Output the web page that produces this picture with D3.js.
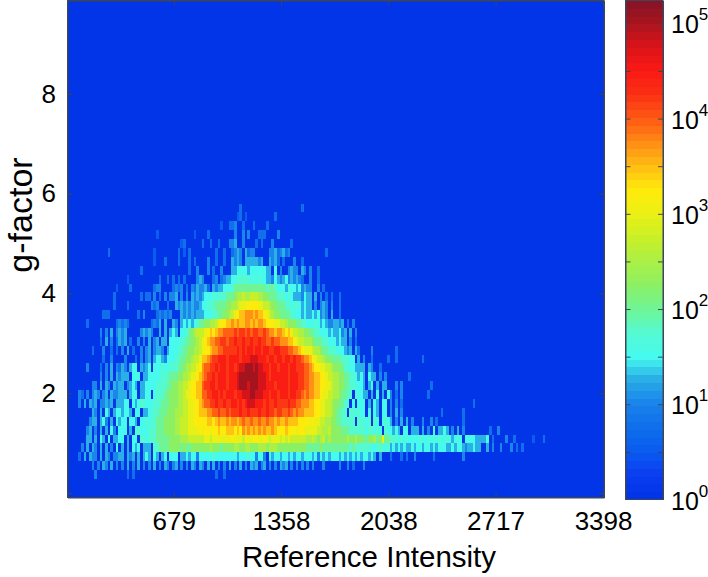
<!DOCTYPE html>
<html>
<head>
<meta charset="utf-8">
<script src="https://cdn.jsdelivr.net/npm/d3@7"></script>
<style>
  body { margin: 0; background: #fff; }
  text { font-family: "Liberation Sans", Arial, sans-serif; fill: #000; }
  .axis path, .axis line { stroke: #3c4658; stroke-width: 1; fill: none; }
</style>
</head>
<body>
<div id="chart"></div>
<script>
// tick labels
const xTicks = [679, 1358, 2038, 2717, 3398]
const yTicks = [0, 2, 4, 6, 8]
const yLabels = [2, 4, 6, 8]
const barDecades = [0, 1, 2, 3, 4, 5]
const barTicks = [0.5, 1, 1.5, 2, 2.5, 3, 3.5, 4, 4.5, 5]

// histogram bins
const firstBinI = 6
const binI = 17
const firstRowTopG = 5.8
const binG = 0.178

const barColors = ["#0032e6", "#0a3cf0", "#0a5af0", "#0f6eeb", "#1982eb", "#28aae6", "#46faf0", "#55fad2", "#6ef596", "#8cf064", "#aaf046", "#c8f028", "#ebf014", "#ffeb0a", "#ffbe14", "#ff8c14", "#ff5a14", "#fa3214", "#fa1914", "#dc1419", "#aa141e", "#821428"]

// one character per bin: "." is empty, otherwise quarter decades of log10(count)
const levelChars = "0123456789abcdefghijkl"
const logCountRows = [
  ".......... .......... .......... .......... .......... .......... ....3..... .......... .......3..",
  ".......... .......... .......... .......... .......... .......... ...23.2... .......3..",
  ".......... .......... .......... .......... .......... .......2.. 334..3...3 ....3.....",
  ".......... .......... .......... ...2...... .......2.. ..3....... ..4..4.4.. .333....4.",
  ".......... .......... .......... .......... ..23...... 3..3..3... 445..4.... 3.3...4... ...3......",
  ".......... .....3.... .......... ..2....... .3.2.3.... .....3..3. .3454.5344 .....44534 534....... ......3...",
  ".......... .......... .......... ..2...3... .3...3.3.. ..4..3..3. .5454.5555 545..5453. 3...4..3..",
  ".......... .......... .......3.. .......... .....3..4. ..4.3..4.. .556666566 666655.6.4 ..4544.54. 4..3......",
  ".......... .......... ..2....... ....3..3.3 .3.3....45 4...34.345 5667777767 6766554654 56454543.. 4..3......",
  ".......... ........2. ...3...... ..344....3 434.3.4354 453.545566 6788888888 8888788766 6576656454 4..4.3....",
  ".......... .......3.. .......3.3 3.4.3.4.44 5.4.4.5454 5666767778 889aabaabb baa9988877 7676555465 5.5.4.3.3. .3........",
  ".......... .......3.. ..3....... .434...3.. 5454545445 6677788889 9aabcccddd dccbba9988 8776776565 5.4.454.4. .3........",
  ".......... ...333.... ......3.4. ...343434. ..54545455 5666778899 abcdeefffe feedcba998 8887666565 5656454.5. .3........",
  ".......3.. ........34 343....... .3435.5..5 4.56565678 899aabcdde efefeeffef effedddccb ba99988776 6676565445 545.3.4...",
  ".......... ..4.4.5.45 45.....454 54..5.5.56 5.66789abb bcdedeffgg gghghhghgh hgghgffeff edecbbaa99 8877666565 5645.5.4..",
  ".......... ..3.5.4.35 45.3..4.4. 5.45.55.66 66778899ab cdeffgghhg hhihhihhih hihhgghggf ffeedcbbaa a988877666 5655.4.3..",
  ".........3 ...4..3.3. 4.5.3..4.4 5.4554.566 6778899aab cddeffgghh hhhihihiih iihiihhiih hhggffedcc cbaa988777 666545.53. ...4...... ..3.......",
  ".......... ...3..4... .4...3.4.4 5.56654666 778899abbc eefghhiiih iiiihiiijj jiiihiihii hiihihhgff edcbba9988 8877766.5. 4..3.....3 ..3....... ..3.......",
  ".......4.. ..3.4.5.43 54.566.545 6.66676677 7889aabbcd fgghhihiih iihijjkkkj kjjiihiihi iihiihhhgg feddccbba9 9987766555 5.54..3...",
  ".......... ..4.4.5.54 555.666.55 6666677788 899aabccde fghhihiiih iiijkkkkkk kjjjihiiii iihiiihhgg ffeeddcbba a998877656 5.655.4.4. .......3..",
  ".........4 4.5.54.545 5.4565.556 6667777889 9aabbcddee ghhiihiiih iiijkkkjkk kjjjiiihii iihiiihhgg ffeeddccba a998877666 5.56.5.55. ..4.4..... .....3....",
  "....43.4.4 54.45.5445 55.566.556 6.67778899 9aabccddee gghhiihihi iihiijjjkk jjjiihiihi iihiihhgfg ffeedccbba a98877.766 55.5.6.5.6 4.3.4..... ....3.....",
  "....4.5.54 5.44545.55 566.656776 6677788899 9aabbccdde fgghhihhih hiihihijjj iiihihhihh hhihhggfff eeddccbba9 98877.6.66 6.5.65.66. 4.4.3..... .......... .......... .3........",
  ".........5 4.5.65.566 5665.66.55 6777888999 aaabbccdde eeffgghggh ghhhihhihh hihhihhghh gghgfgffee eeddccbba9 8877.77676 6.6.65.66. 4.5.4..... .........3 .......3..",
  "........45 5.564.5.65 66.665.667 6778889999 aabbbccddd ddeedefeef effefgffgf fgffgffefe efeeeedddd cdccbbaa99 8877777.77 767.76.676 5.4.5.5.4. ..4..4.3.. .......3..",
  ".......45. 4.5.5.64.6 66.5.77666 7778889999 aabbbccccd cddcddedde eededfefef efefeefedd dedddcddcc cccbbaab99 9988877777 7677676.76 6565.66.55 5.5.4.6.55 65.4.5.4.. .......3.. 4.........",
  ".......55. 5.65.6.556 6.5.66.776 7778888899 99aaabbbbb bccbcccccc cdcccbdccd dccdcbcccb cbcbbbbbba aba9ab9a99 9999a99a99 8899a89c88 7776767666 6766767676 6765676.66 6655556.3. ...4..3... ...2...3..",
  ".....4.5.5 4.5.5.4.6. 5.5.656.55 5.77888899 9989889999 999a999899 99aa99aa99 9aaa9aaa99 9999999998 8888988888 8888878777 7776677767 5656565565 6656656566 6556566545 5655..5.4. .4...4.3.3",
  "....3.5.54 4.5.54.445 5.545.5.56 5.65.56.66 6.55656646 6666766666 6665666766 4664.65665 6656566566 6564656566 6565656565 66565.5... 3...3.3..4 ......3... .......4..",
  ".........4 .4.54.5.4. 4.5.4.5.4. 4.5.4.54.4 5.4.4.54.5 4.5.5.4.4. 5.4.5.4.54 5.45.4.4.5 45.4.4.4.4 .4...4.... .4..4.3... 4.........",
  ".......... 4......... ..3.3..... .......... .......... .....3..3."
]

const anchoTotal = 708
const altoTotal = 577
const plot = { left: 67.5, right: 604, top: 0.5, bottom: 497.5 }
const bar = { left: 625.5, right: 663, top: 0.5, bottom: 499.5 }
const barMaxLog = 5.24
const tick = 5

const svg = d3
  .select("#chart")
  .append("svg")
  .attr("width", anchoTotal)
  .attr("height", altoTotal)

const x = d3.scaleLinear().domain([6, 3404]).range([plot.left, plot.right])
const y = d3.scaleLinear().domain([-0.09, 9.87]).range([plot.bottom, plot.top])
const yBar = d3
  .scaleLog()
  .domain([1, Math.pow(10, barMaxLog)])
  .range([bar.bottom, bar.top])

// 64 band colormap like the original
const nBands = 64
const ramp = d3
  .scaleLinear()
  .domain(barColors.map((d, i) => (i / 4) / barMaxLog))
  .range(barColors)
  .clamp(true)
const bandColor = (k) => ramp((k + 0.5) / nBands)
const countColor = (count) => {
  const t = Math.log10(count) / barMaxLog
  return bandColor(Math.min(nBands - 1, Math.floor(t * nBands)))
}

// flat list of cells from the rows
const cells = []
logCountRows.forEach((row, r) => {
  Array.from(row.replace(/ /g, "")).forEach((ch, c) => {
    if (ch === ".") return
    cells.push({ r, c, count: Math.pow(10, levelChars.indexOf(ch) / 4) })
  })
})

svg
  .append("rect")
  .attr("x", plot.left)
  .attr("y", plot.top)
  .attr("width", plot.right - plot.left)
  .attr("height", plot.bottom - plot.top)
  .attr("fill", countColor(1))

svg
  .append("g")
  .attr("shape-rendering", "crispEdges")
  .selectAll("rect")
  .data(cells)
  .enter()
  .append("rect")
  .attr("x", (d) => x(firstBinI + d.c * binI))
  .attr("y", (d) => y(firstRowTopG - d.r * binG))
  .attr("width", x(firstBinI + binI) - x(firstBinI))
  .attr("height", y(0) - y(binG))
  .attr("fill", (d) => countColor(d.count))

// axes, ticks point inward
const xAxis = svg
  .append("g")
  .classed("axis", true)
  .attr("transform", `translate(0, ${plot.bottom})`)
  .call(
    d3
      .axisBottom(x)
      .tickValues(xTicks)
      .tickSizeInner(-tick)
      .tickSizeOuter(0)
      .tickPadding(14)
      .tickFormat(d3.format("d"))
  )
xAxis.selectAll("text").attr("font-size", 26).attr("dy", "0.71em")

svg
  .append("g")
  .classed("axis", true)
  .attr("transform", `translate(0, ${plot.top})`)
  .call(d3.axisTop(x).tickValues(xTicks).tickSizeInner(-tick).tickSizeOuter(0).tickFormat(""))

const yAxis = svg
  .append("g")
  .classed("axis", true)
  .attr("transform", `translate(${plot.left}, 0)`)
  .call(
    d3
      .axisLeft(y)
      .tickValues(yTicks)
      .tickSizeInner(-tick)
      .tickSizeOuter(0)
      .tickPadding(11.5)
      .tickFormat((d) => (yLabels.includes(d) ? d : ""))
  )
yAxis.selectAll("text").attr("font-size", 26)

svg
  .append("g")
  .classed("axis", true)
  .attr("transform", `translate(${plot.right}, 0)`)
  .call(d3.axisRight(y).tickValues(yTicks).tickSizeInner(-tick).tickSizeOuter(0).tickFormat(""))

svg
  .append("text")
  .attr("x", 369)
  .attr("y", 567)
  .attr("text-anchor", "middle")
  .attr("font-size", 29.5)
  .text("Reference Intensity")

svg
  .append("text")
  .attr("transform", "translate(31.5, 215) rotate(-90)")
  .attr("text-anchor", "middle")
  .attr("font-size", 34)
  .text("g-factor")

// colour bar
const bands = d3.range(nBands)
const bandH = (bar.bottom - bar.top) / nBands
svg
  .append("g")
  .attr("shape-rendering", "crispEdges")
  .selectAll("rect")
  .data(bands)
  .enter()
  .append("rect")
  .attr("x", bar.left)
  .attr("y", (k) => bar.bottom - (k + 1) * bandH)
  .attr("width", bar.right - bar.left)
  .attr("height", bandH + 0.5)
  .attr("fill", bandColor)

const barVals = barTicks.map((d) => Math.pow(10, d))
svg
  .append("g")
  .classed("axis", true)
  .attr("transform", `translate(${bar.left}, 0)`)
  .call(d3.axisLeft(yBar).tickValues(barVals).tickSizeInner(-tick).tickSizeOuter(0).tickFormat(""))
svg
  .append("g")
  .classed("axis", true)
  .attr("transform", `translate(${bar.right}, 0)`)
  .call(d3.axisRight(yBar).tickValues(barVals).tickSizeInner(-tick).tickSizeOuter(0).tickFormat(""))

svg
  .append("rect")
  .attr("x", bar.left)
  .attr("y", bar.top)
  .attr("width", bar.right - bar.left)
  .attr("height", bar.bottom - bar.top)
  .attr("fill", "none")
  .attr("stroke", "#3c4658")

svg
  .append("rect")
  .attr("x", plot.left)
  .attr("y", plot.top)
  .attr("width", plot.right - plot.left)
  .attr("height", plot.bottom - plot.top)
  .attr("fill", "none")
  .attr("stroke", "#3c4658")

const barLabels = svg
  .selectAll(".barLabel")
  .data(barDecades)
  .enter()
  .append("text")
  .classed("barLabel", true)
  .attr("x", 671)
  .attr("y", (d) => Math.min(yBar(Math.pow(10, d)) + 10, 510))
  .attr("font-size", 25)
barLabels.append("tspan").text("10")
barLabels
  .append("tspan")
  .attr("dy", -13)
  .attr("font-size", 17)
  .text((d) => d)
</script>
</body>
</html>
